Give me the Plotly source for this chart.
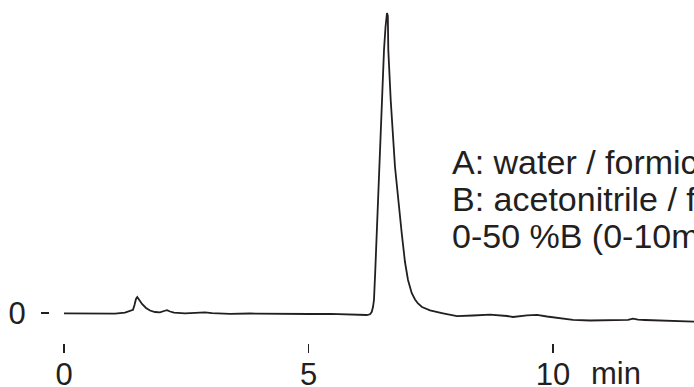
import plotly.graph_objects as go

# retention time (min) and detector signal (relative units, main peak = 100)
time_min = [0.000, 0.327, 0.736, 1.043, 1.247, 1.370, 1.411, 1.442, 1.472, 1.499,
            1.534, 1.595, 1.677, 1.759, 1.861, 1.963, 2.045, 2.106, 2.168, 2.249,
            2.474, 2.781, 2.883, 3.027, 3.395, 3.804, 4.213, 4.622, 5.031, 5.440,
            5.849, 6.190, 6.258, 6.292, 6.319, 6.339, 6.366, 6.395, 6.442, 6.497,
            6.544, 6.575, 6.591, 6.605, 6.622, 6.632, 6.681, 6.769, 6.906, 6.973,
            7.035, 7.110, 7.178, 7.239, 7.321, 7.485, 7.751, 8.037, 8.364, 8.712,
            9.059, 9.182, 9.468, 9.673, 9.877, 10.143, 10.409, 10.757, 11.104, 11.370,
            11.534, 11.636, 11.738, 11.881, 12.127, 12.454, 12.740, 12.883]
signal = [-0.10, -0.20, -0.33, -0.20, 0.13, 0.77, 1.07, 2.67, 4.67, 5.33,
          4.50, 3.00, 1.67, 0.83, 0.33, 0.23, 0.67, 0.93, 0.50, 0.10,
          -0.13, 0.00, 0.20, -0.07, -0.27, -0.17, -0.27, -0.13, -0.33, -0.27,
          -0.40, -0.67, -0.43, 0.33, 2.00, 4.33, 14.33, 26.67, 48.67, 71.00,
          87.67, 95.33, 99.00, 100.00, 99.00, 87.67, 71.00, 48.67, 26.67, 17.00,
          11.00, 6.67, 4.50, 3.17, 2.00, 0.90, -0.10, -1.07, -0.83, -0.57,
          -1.00, -1.33, -0.77, -0.60, -1.17, -1.67, -2.27, -2.50, -2.50, -2.43,
          -2.27, -1.87, -2.20, -2.33, -2.43, -2.57, -2.87, -2.90]

x_tick_vals = [0, 5, 10]
x_tick_text = ["0", "5", "10"]
y_tick_vals = [0]
y_tick_text = ["0"]
x_unit = "min"
conditions = ["A: water / formic acid",
              "B: acetonitrile / formic acid",
              "0-50 %B (0-10min)"]

FONT = "Arial, 'Liberation Sans', Helvetica, sans-serif"
INK = "#231f20"
FS = 31
FS_COND = 34

fig = go.Figure()
fig.add_trace(go.Scatter(x=time_min, y=signal, mode="lines",
                         line=dict(color=INK, width=1.8), hoverinfo="skip",
                         showlegend=False))

fig.update_layout(
    template="none",
    width=694, height=387, autosize=False,
    margin=dict(l=50, r=0, t=0, b=44, pad=0),
    paper_bgcolor="white", plot_bgcolor="white",
    font=dict(family=FONT, size=FS, color=INK),
    showlegend=False,
)
fig.update_xaxes(range=[-0.2863, 12.8834], showgrid=False, zeroline=False,
                 showline=False, automargin=False, tickmode="array",
                 tickvals=x_tick_vals, ticktext=x_tick_text, ticks="outside",
                 ticklen=9, tickwidth=1.5, tickcolor=INK, ticklabelstandoff=-5,
                 tickfont=dict(family=FONT, size=FS, color=INK))
fig.update_yaxes(range=[-10, 104.333], showgrid=False, zeroline=False,
                 showline=False, automargin=False, tickmode="array",
                 tickvals=y_tick_vals, ticktext=y_tick_text, ticks="outside",
                 ticklen=8, tickwidth=1.5, tickcolor=INK, ticklabelstandoff=9,
                 tickfont=dict(family=FONT, size=FS, color=INK))

# unit label next to the "10" tick
fig.add_annotation(text=x_unit, xref="paper", yref="paper",
                   x=(589 - 50) / 644, y=(343 - 373.5) / 343,
                   xanchor="left", yanchor="middle", showarrow=False,
                   font=dict(family=FONT, size=FS, color=INK))

# mobile phase / gradient conditions
line_y = [161.5, 198.5, 236.5]
for txt, ypx in zip(conditions, line_y):
    fig.add_annotation(text=txt, xref="paper", yref="paper",
                       x=(450 - 50) / 644, y=(343 - ypx) / 343,
                       xanchor="left", yanchor="middle", showarrow=False,
                       font=dict(family=FONT, size=FS_COND, color=INK))

fig.write_html("out.html",
               config={"displayModeBar": False, "staticPlot": True},
               post_script="document.body.style.margin='0';"
                           "document.body.style.overflow='hidden';")
